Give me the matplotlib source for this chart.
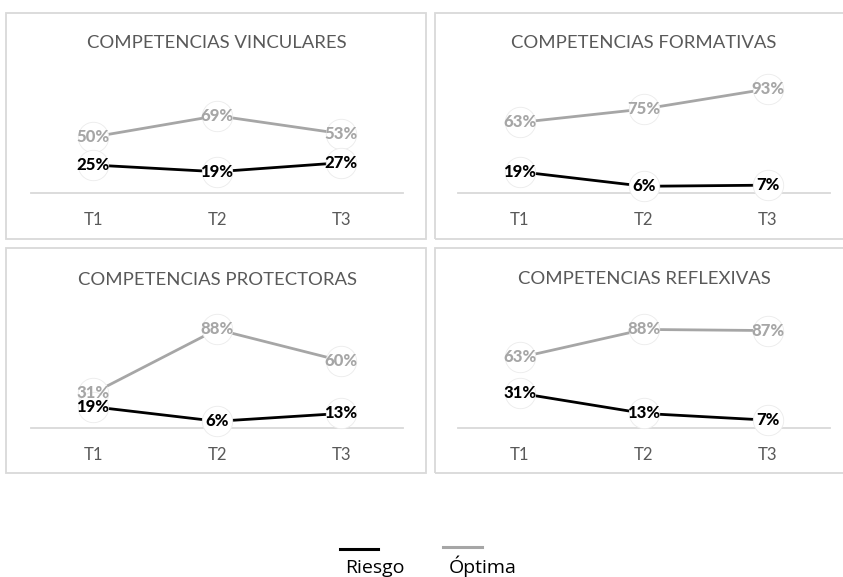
import matplotlib
matplotlib.use("Agg")
import matplotlib.pyplot as plt
from matplotlib.patches import Rectangle
from matplotlib.lines import Line2D

plt.rcParams['font.family'] = ['Lato', 'DejaVu Sans']

categories = ["T1", "T2", "T3"]
titles = ["COMPETENCIAS VINCULARES", "COMPETENCIAS FORMATIVAS",
          "COMPETENCIAS PROTECTORAS", "COMPETENCIAS REFLEXIVAS"]
riesgo = [[25, 19, 27], [19, 6, 7], [19, 6, 13], [31, 13, 7]]
optima = [[50, 69, 53], [63, 75, 93], [31, 88, 60], [63, 88, 87]]

W, H = 843, 577
fig = plt.figure(figsize=(W / 100, H / 100), dpi=100)

def fx(x):
    return x / W

def fy(y):
    return 1 - y / H

# panel geometry in pixels: (axis_left, axis_right, axis_y, box, title_y)
panels = [
    (31, 403, 193, (6, 13, 426, 239), 43),
    (458, 830, 193, (435, 13, 852, 239), 43),
    (31, 403, 428, (6, 248, 426, 473), 280),
    (458, 830, 428, (435, 248, 852, 473), 279),
]
SCALE = 112  # pixels for 100%

BLACK = "#000000"
GRAY = "#a6a6a6"
TXT = "#595959"
BORDER = "#d9d9d9"
CIRCLE_S = 480

for i, (xl, xr, ay, box, ty) in enumerate(panels):
    bx0, by0, bx1, by1 = box
    fig.patches.append(Rectangle((fx(bx0), fy(by1)), fx(bx1 - bx0), (by1 - by0) / H,
                                 transform=fig.transFigure, facecolor="none",
                                 edgecolor=BORDER, linewidth=1.3, zorder=0))
    ax = fig.add_axes([fx(xl), fy(ay), fx(xr - xl), SCALE / H])
    ax.set_facecolor("none")
    ax.set_xlim(-0.5, 2.5)
    ax.set_ylim(0, 100)
    for s in ["top", "left", "right"]:
        ax.spines[s].set_visible(False)
    ax.spines["bottom"].set_color(BORDER)
    ax.spines["bottom"].set_linewidth(1.3)
    ax.set_yticks([])
    ax.set_xticks(range(len(categories)))
    ax.set_xticklabels(categories, color=TXT, fontsize=12)
    ax.tick_params(axis="x", length=0, pad=14)
    x = list(range(len(categories)))
    ax.plot(x, optima[i], color=GRAY, lw=2.0, zorder=2, solid_capstyle="butt")
    ax.plot(x, riesgo[i], color=BLACK, lw=2.0, zorder=2, solid_capstyle="butt")
    # white label circles
    ax.scatter(x, optima[i], s=CIRCLE_S, c="white", edgecolors="#ebebeb",
               linewidths=0.6, zorder=3, clip_on=False)
    ax.scatter(x, riesgo[i], s=CIRCLE_S, c="white", edgecolors="#ebebeb",
               linewidths=0.6, zorder=4, clip_on=False)
    for xi, v in zip(x, optima[i]):
        ax.text(xi, v, f"{v}%", ha="center", va="center", fontsize=12,
                fontweight="black", color=GRAY, zorder=6, clip_on=False)
    for xi, v in zip(x, riesgo[i]):
        ax.text(xi, v, f"{v}%", ha="center", va="center", fontsize=12,
                fontweight="black", color=BLACK, zorder=6, clip_on=False)
    fig.text(fx((xl + xr) / 2), fy(ty), titles[i], ha="center", va="center",
             fontsize=13.3, color=TXT)

# legend
fig.lines.append(Line2D([fx(340), fx(378)], [fy(549), fy(549)], color=BLACK, lw=2.2,
                        transform=fig.transFigure))
fig.lines.append(Line2D([fx(443), fx(482)], [fy(547), fy(547)], color=GRAY, lw=2.2,
                        transform=fig.transFigure))
fig.text(fx(375), fy(573), "Riesgo", ha="center", va="baseline", fontsize=14,
         color="#000000", family=["Open Sans", "DejaVu Sans"])
fig.text(fx(483), fy(573), "Óptima", ha="center", va="baseline", fontsize=14,
         color="#000000", family=["Open Sans", "DejaVu Sans"])

fig.savefig("out.png", dpi=100, facecolor="white")
